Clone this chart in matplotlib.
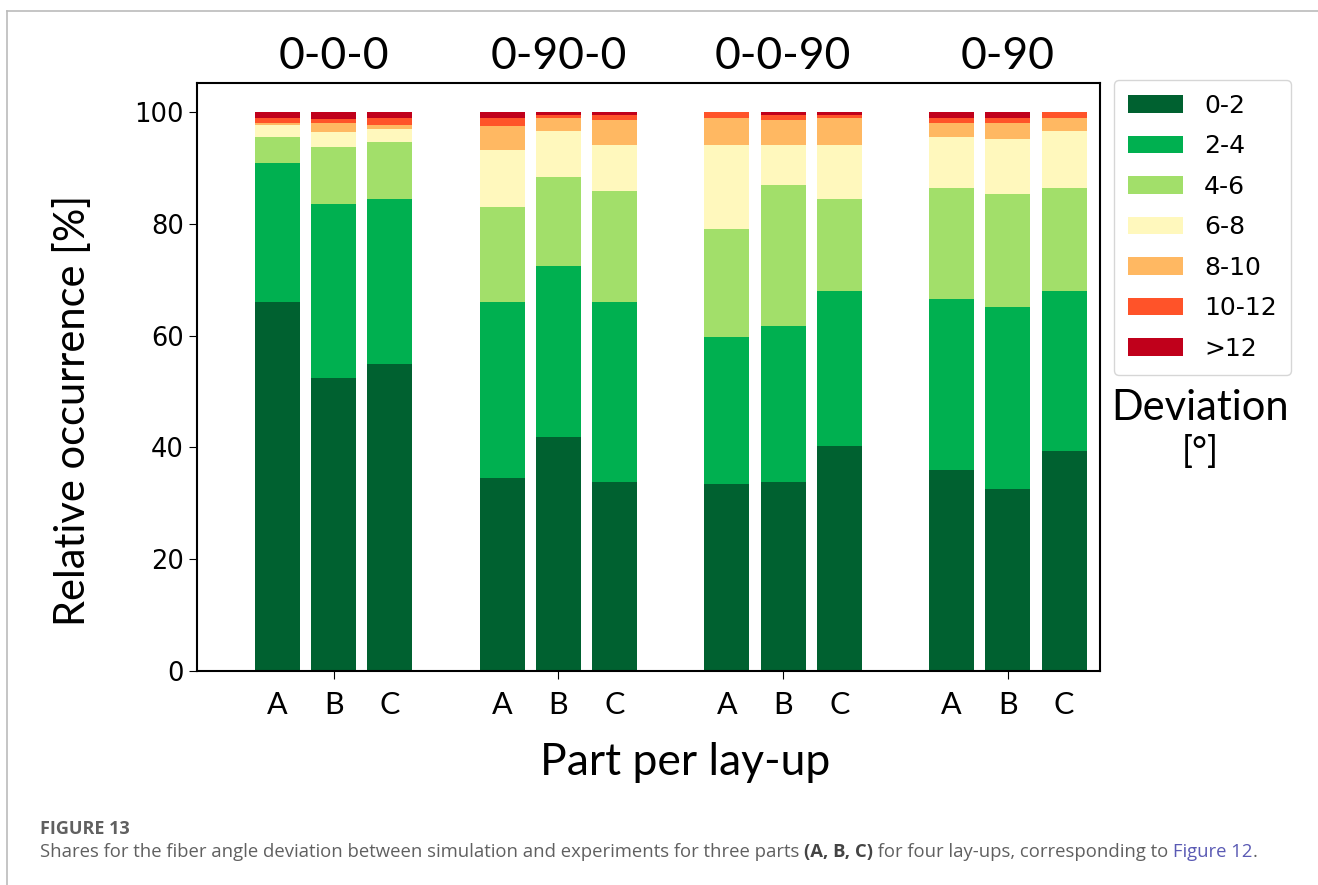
import matplotlib
matplotlib.use('Agg')
from matplotlib import pyplot as plt
from matplotlib.patches import Patch
from matplotlib.lines import Line2D
import numpy as np

# layups and parts
layups = ['0-0-0', '0-90-0', '0-0-90', '0-90']
parts = ['A', 'B', 'C']
bins = ['0-2', '2-4', '4-6', '6-8', '8-10', '10-12', '>12']
colors = ['#006130', '#00b050', '#a2df6a', '#fff8bd', '#ffb862', '#ff5329', '#c0001b']

# shares [%] per bin, 12 bars in order (0-0-0 A,B,C, 0-90-0 A,B,C, ...)
s_0_2   = [66.0, 52.5, 54.9, 34.5, 41.8, 33.9, 33.4, 33.9, 40.2, 35.9, 32.5, 39.3]
s_2_4   = [24.8, 31.0, 29.6, 31.5, 30.6, 32.1, 26.3, 27.8, 27.8, 30.7, 32.6, 28.7]
s_4_6   = [4.7, 10.2, 10.2, 17.1, 16.0, 19.9, 19.4, 25.2, 16.5, 19.8, 20.3, 18.4]
s_6_8   = [2.1, 2.8, 2.3, 10.1, 8.2, 8.2, 15.0, 7.2, 9.6, 9.2, 9.7, 10.2]
s_8_10  = [0.5, 1.5, 0.7, 4.3, 2.4, 4.4, 4.9, 4.4, 4.9, 2.4, 2.9, 2.4]
s_10_12 = [0.8, 0.7, 1.2, 1.5, 0.4, 1.0, 1.0, 1.0, 0.5, 1.0, 1.0, 1.0]
s_gt12  = [1.1, 1.3, 1.1, 1.0, 0.6, 0.5, 0.0, 0.5, 0.5, 1.0, 1.0, 0.0]
shares = [s_0_2, s_2_4, s_4_6, s_6_8, s_8_10, s_10_12, s_gt12]

big = 'Lato'

fig = plt.figure(figsize=(13.18, 8.85), dpi=100)
ax = fig.add_axes([0.1495, 0.2418, 0.8346 - 0.1495, 0.9062 - 0.2418])

x = np.array([g * 4 + i for g in range(4) for i in range(3)])
bottom = np.zeros(len(x))
for vals, c, lab in zip(shares, colors, bins):
    ax.bar(x, vals, width=0.8, bottom=bottom, color=c, label=lab)
    bottom += np.array(vals)

ax.set_xlim(-1.43, 14.64)
ax.set_ylim(0, 105.2)
ax.set_yticks([0, 20, 40, 60, 80, 100])
ax.tick_params(axis='y', labelsize=18.5, length=6)
ax.set_xticks([1, 5, 9, 13])
ax.set_xticklabels([])
ax.tick_params(axis='x', length=6)
for sp in ax.spines.values():
    sp.set_linewidth(1.5)

# part labels under each bar
for xi, p in zip(x, parts * 4):
    ax.text(xi, -3.5, p, ha='center', va='top', fontsize=22, family=big)

# lay-up titles
for g, name in enumerate(layups):
    ax.text(g * 4 + 1, 1.01, name, transform=ax.get_xaxis_transform(),
            ha='center', va='bottom', fontsize=32, family=big)

ax.set_ylabel('Relative occurrence [%]', fontsize=30, family=big)
ax.yaxis.set_label_coords(-0.116, 0.444)
ax.set_xlabel('Part per lay-up', fontsize=32, family=big)
ax.xaxis.set_label_coords(0.541, -0.12)

handles = [Patch(facecolor=c) for c in colors]
leg = fig.legend(handles, bins, loc='upper left', bbox_to_anchor=(1114 / 1318, 1 - 80 / 885),
                 fontsize=18, handlelength=2.2, handleheight=0.7, labelspacing=0.66,
                 handletextpad=0.85, borderpad=0.55, borderaxespad=0, frameon=True)

fig.text(1200 / 1318, 1 - 408 / 885, 'Deviation', ha='center', va='center', fontsize=30, family=big)
fig.text(1200 / 1318, 1 - 452 / 885, '[°]', ha='center', va='center', fontsize=26, family=big)

# frame lines of the page
fig.add_artist(Line2D([7 / 1318, 1], [1 - 11 / 885, 1 - 11 / 885], color='#bbbbbb', lw=1.2))
fig.add_artist(Line2D([7 / 1318, 7 / 1318], [0, 1 - 11 / 885], color='#bbbbbb', lw=1.2))

# caption
cap = 'Open Sans'
gray = '#606060'
fig.text(40 / 1318, 1 - 829 / 885, 'FIGURE 13', fontsize=13, family=cap, weight='bold',
         color=gray, va='center')
pieces = [
    ('Shares for the fiber angle deviation between simulation and experiments for three parts ', gray, 'normal'),
    ('(A, B, C)', '#444444', 'bold'),
    (' for four lay-ups, corresponding to ', gray, 'normal'),
    ('Figure 12', '#5a5ab4', 'normal'),
    ('.', gray, 'normal'),
]
renderer = fig.canvas.get_renderer()
xpos = 40 / 1318
for txt, col, w in pieces:
    t = fig.text(xpos, 1 - 852 / 885, txt, fontsize=13.3, family=cap, weight=w, color=col, va='center')
    bb = t.get_window_extent(renderer)
    xpos += bb.width / fig.bbox.width

plt.savefig('out.png', dpi=100)
